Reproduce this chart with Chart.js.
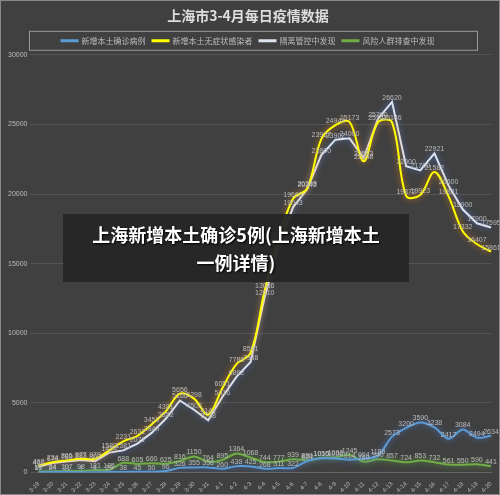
<!DOCTYPE html><html><head><meta charset="utf-8">
<script src="https://cdn.jsdelivr.net/npm/chart.js@4"></script>
<style>body{margin:0;background:#404040;}#w{position:relative;width:500px;height:495px;background:#404040;box-sizing:border-box;border:1px solid #888}
#ban{position:absolute;left:62px;top:213px;width:346px;height:68px;background:rgba(38,38,38,0.95);color:#fff;font:bold 18px "Noto Sans CJK SC";text-align:center;line-height:28px;padding-top:6px;box-sizing:border-box;text-shadow:1px 1px 2px #000}</style></head><body>
<div id="w"><canvas id="c" width="498" height="493"></canvas><div id="ban">上海新增本土确诊5例(上海新增本土<br>一例详情)</div></div>
<script>
const labels=["3-19","3-20","3-21","3-22","3-23","3-24","3-25","3-26","3-27","3-28","3-29","3-30","3-31","4-1","4-2","4-3","4-4","4-5","4-6","4-7","4-8","4-9","4-10","4-11","4-12","4-13","4-14","4-15","4-16","4-17","4-18","4-19","4-20"];
const confirmed=[17,24,31,4,4,29,38,45,50,96,326,355,358,260,438,425,268,311,322,824,1015,1006,914,994,1189,2573,3200,3590,3238,2417,3084,2494,2634];
const asymptomatic=[492,734,865,977,979,1580,2231,2631,3450,4381,5656,5298,4144,6051,7788,8581,13086,16766,19660,20398,23937,24944,25173,22348,25141,25146,19872,19923,21582,19831,17332,16407,15861];
const quarantine=[400,674,789,883,802,1424,1581,2071,2840,3852,5166,4503,3738,5416,6862,7938,12610,16300,19043,20342,22800,23902,24000,22573,25390,26620,22000,21700,22921,20600,18900,17900,17595];
const screening=[60,84,107,98,181,185,688,605,660,625,816,1150,764,895,1364,1068,744,777,939,880,1050,1092,1245,769,940,857,724,853,732,561,550,590,441];
const glow={id:'glow',beforeDatasetDraw(ch,a){const c=ch.ctx;c.save();c.shadowColor=a.index==1?'rgba(255,140,0,0.8)':'rgba(80,140,255,0.7)';if(a.index==3)c.shadowColor='rgba(120,200,60,0.7)';c.shadowBlur=6;},afterDatasetDraw(ch){ch.ctx.restore();}};
const lbl={id:'lbl',afterDatasetsDraw(ch){const c=ch.ctx;c.save();c.font='7px "Liberation Sans"';c.fillStyle='#bbb';c.textAlign='center';
ch.data.datasets.forEach((d,i)=>{const m=ch.getDatasetMeta(i);m.data.forEach((p,j)=>{c.fillText(d.data[j],p.x,p.y-4);});});c.restore();}};
const box={id:'box',afterDraw(ch){const l=ch.legend,c=ch.ctx;c.save();c.strokeStyle='#999';c.lineWidth=1;c.strokeRect(28.5,l.top+1.5,448,l.height-6);c.restore();}};
const ds=(l,d,col,t)=>({label:l,data:d,borderColor:col,backgroundColor:col,borderWidth:2,pointRadius:0,tension:t,fill:false});
new Chart(document.getElementById('c'),{type:'line',data:{labels,datasets:[ds('新增本土确诊病例',confirmed,'#5b9bd5',0.3),ds('新增本土无症状感染者',asymptomatic,'#ffff00',0.35),ds('隔离管控中发现',quarantine,'#dde4f0',0),ds('风险人群排查中发现',screening,'#70ad47',0.3)]},
options:{responsive:false,animation:false,layout:{padding:{left:4,right:8,bottom:0}},
plugins:{title:{display:true,text:'上海市3-4月每日疫情数据',color:'#ddd',font:{size:14,family:'Noto Sans CJK SC',weight:'bold'},padding:{top:6,bottom:6}},
legend:{labels:{color:'#bbb',boxWidth:16,boxHeight:1,font:{size:8,family:'Noto Sans CJK SC'},padding:7}},tooltip:{enabled:false}},
scales:{y:{min:0,max:30000,ticks:{stepSize:5000,color:'#bbb',font:{size:7},callback:v=>String(v)},grid:{color:'#555'},border:{display:false}},
x:{ticks:{color:'#bbb',font:{size:6},maxRotation:45,minRotation:45,autoSkip:false,padding:0},grid:{display:false},border:{color:'#666'}}}},plugins:[glow,lbl,box]});
</script></body></html>
